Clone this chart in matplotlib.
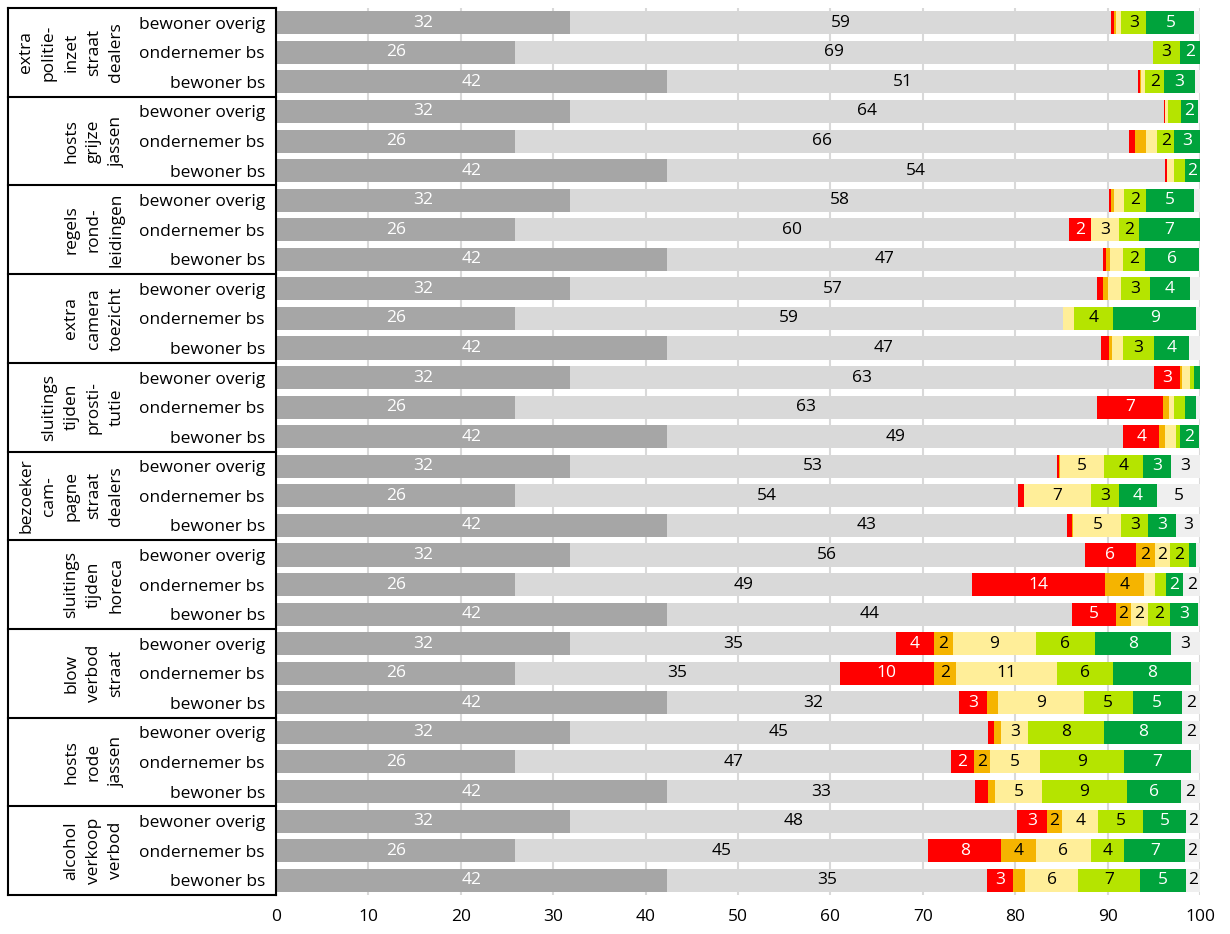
import numpy as np
import matplotlib
matplotlib.use('Agg')
import matplotlib.pyplot as plt

plt.rcParams['font.family'] = ['Open Sans', 'DejaVu Sans']

# maatregelen (groepen), van boven naar beneden
groepen = ['extra\npolitie-\ninzet\nstraat\ndealers',
           'hosts\ngrijze\njassen',
           'regels\nrond-\nleidingen',
           'extra\ncamera\ntoezicht',
           'sluitings\ntijden\nprosti-\ntutie',
           'bezoeker\ncam-\npagne\nstraat\ndealers',
           'sluitings\ntijden\nhoreca',
           'blow\nverbod\nstraat',
           'hosts\nrode\njassen',
           'alcohol\nverkoop\nverbod']
respondenten = ['bewoner overig', 'ondernemer bs', 'bewoner bs']

# percentages per segment, 30 rijen (10 groepen x 3 respondenten)
donkergrijs = [31.8, 25.9, 42.3] * 10
lichtgrijs = [58.6, 69.0, 51.0,  64.3, 66.4, 53.9,  58.4, 59.9, 47.2,  57.0, 59.3, 47.0,
              63.2, 62.9, 49.4,  52.7, 54.4, 43.3,  55.7, 49.4, 43.9,  35.3, 35.1, 31.6,
              45.3, 47.2, 33.4,  48.4, 44.7, 34.7]
rood = [0.3, 0.0, 0.2,  0.1, 0.7, 0.2,  0.2, 2.4, 0.3,  0.7, 0.0, 0.8,
        2.8, 7.2, 3.9,  0.2, 0.6, 0.6,  5.6, 14.4, 4.7,  4.1, 10.2, 3.1,
        0.6, 2.4, 1.4,  3.2, 7.9, 2.8]
oranje = [0.2, 0.0, 0.1,  0.0, 1.2, 0.0,  0.3, 0.0, 0.5,  0.5, 0.0, 0.4,
          0.3, 0.6, 0.6,  0.2, 0.0, 0.1,  2.0, 4.2, 1.6,  2.1, 2.4, 1.1,
          0.8, 1.8, 0.7,  1.7, 3.7, 1.3]
lichtgeel = [0.6, 0.0, 0.5,  0.3, 1.2, 0.8,  1.1, 3.0, 1.4,  1.4, 1.2, 1.2,
             0.8, 0.6, 1.2,  4.7, 7.3, 5.2,  1.6, 1.2, 1.9,  8.9, 10.9, 9.3,
             2.9, 5.4, 5.1,  3.9, 6.0, 5.7]
geelgroen = [2.7, 2.9, 2.0,  1.4, 1.8, 1.2,  2.4, 2.2, 2.4,  3.2, 4.2, 3.3,
             0.4, 1.2, 0.4,  4.2, 3.0, 2.9,  2.1, 1.2, 2.4,  6.4, 6.1, 5.3,
             8.2, 9.1, 9.2,  4.8, 3.6, 6.7]
groen = [5.2, 2.2, 3.4,  1.9, 2.8, 1.6,  5.1, 6.6, 5.8,  4.3, 9.0, 3.8,
         0.7, 1.2, 2.1,  3.1, 4.2, 3.0,  0.8, 1.9, 3.0,  8.3, 8.4, 5.3,
         8.4, 7.2, 5.8,  4.7, 6.6, 5.0]
rest = [0.6, 0.0, 0.5,  0.2, 0.0, 0.0,  0.7, 0.0, 0.1,  1.1, 0.4, 1.2,
        0.0, 0.4, 0.1,  3.1, 4.6, 2.6,  0.4, 1.8, 0.2,  3.1, 1.0, 2.0,
        2.0, 1.0, 2.1,  1.5, 1.6, 1.5]

series = [donkergrijs, lichtgrijs, rood, oranje, lichtgeel, geelgroen, groen, rest]
kleuren = ['#a6a6a6', '#d9d9d9', '#ff0000', '#f5b400', '#ffee99', '#b5e400', '#00a33c', '#efefef']
tekstkleur = ['white', 'black', 'white', 'black', 'black', 'black', 'white', 'black']

fig = plt.figure(figsize=(12.3, 9.34), dpi=100)
ax = fig.add_axes([276/1230, 1-895/934, 924/1230, 887/934])

n = len(donkergrijs)
y = np.arange(n)
left = np.zeros(n)
for vals, c, tc in zip(series, kleuren, tekstkleur):
    vals = np.array(vals)
    ax.barh(y, vals, left=left, height=0.78, color=c, zorder=2)
    for yi, l, v in zip(y, left, vals):
        if v >= 1.5:
            ax.text(l + v/2, yi, str(int(v + 0.5)), ha='center', va='center',
                    color=tc, fontsize=12.5, zorder=3)
    left += vals

ax.set_xlim(0, 100)
ax.set_ylim(n - 0.5, -0.5)
ax.set_xticks(np.arange(0, 101, 10))
ax.grid(axis='x', color='#d9d9d9', lw=1.5, zorder=0)
ax.set_axisbelow(True)
ax.set_yticks(y)
ax.set_yticklabels(respondenten * 10)
ax.tick_params(axis='y', length=0, pad=8, labelsize=12.5)
ax.tick_params(axis='x', length=0, pad=10, labelsize=12.5)
for s in ['top', 'right', 'bottom']:
    ax.spines[s].set_visible(False)
ax.spines['left'].set_linewidth(1.5)
ax.spines['left'].set_color('black')

# tabel links met groepsnamen
tr = ax.get_yaxis_transform()
x0 = -0.290
ax.plot([x0, x0], [-0.5, n - 0.5], color='black', lw=1.5, transform=tr, clip_on=False)
for k in range(len(groepen) + 1):
    yb = -0.5 + 3*k
    ax.plot([x0, 0], [yb, yb], color='black', lw=1.5, transform=tr, clip_on=False)
for k, g in enumerate(groepen):
    ax.text(-0.164, 3*k + 1, g, rotation=90, ha='right', va='center',
            multialignment='center', linespacing=1.55, fontsize=12.5,
            transform=tr, clip_on=False)

fig.savefig('out.png', dpi=100)
plt.close()
